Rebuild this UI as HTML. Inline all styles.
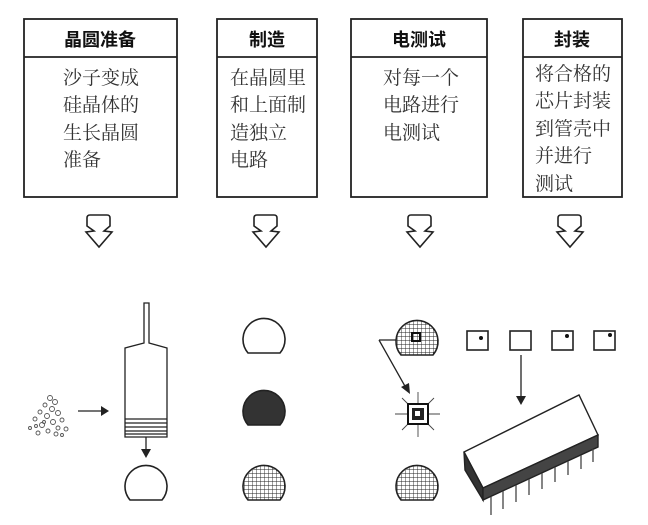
<!DOCTYPE html>
<html><head><meta charset="utf-8"><style>
html,body{margin:0;padding:0;background:#fff;}
svg{display:block;}
.t{font-family:"Liberation Sans","Noto Sans CJK SC",sans-serif;font-weight:bold;font-size:18px;fill:#111;}
.b{font-family:"Liberation Serif","Noto Serif CJK SC",serif;font-size:19px;fill:#333;}
</style></head><body>
<svg width="648" height="525" viewBox="0 0 648 525" xmlns="http://www.w3.org/2000/svg">
<defs>
<pattern id="g" width="4" height="4" patternUnits="userSpaceOnUse">
<path d="M0 0H4M0 0V4" stroke="#222" stroke-width="0.9"/>
</pattern>
<path id="arr" d="M-9,0 H8 Q11,0 11,3 V11 L5,16 L13,17 L0,32 L-13,17 L-5,16 L-12,11 V3 Q-12,0 -9,0 Z" fill="none" stroke="#222" stroke-width="1.6"/>
<path id="waf" d="M-16,35 A21 21 0 1 1 16,35 Z"/>
</defs>
<g fill="none" stroke="#222" stroke-width="1.8">
<rect x="24" y="19" width="153" height="178"/><line x1="24" y1="57" x2="177" y2="57"/>
<rect x="217" y="19" width="100" height="178"/><line x1="217" y1="57" x2="317" y2="57"/>
<rect x="351" y="19" width="136" height="178"/><line x1="351" y1="57" x2="487" y2="57"/>
<rect x="523" y="19" width="99" height="178"/><line x1="523" y1="57" x2="622" y2="57"/>
</g>
<text class="t" x="100" y="46" text-anchor="middle">晶圆准备</text>
<text class="t" x="267" y="46" text-anchor="middle">制造</text>
<text class="t" x="419" y="46" text-anchor="middle">电测试</text>
<text class="t" x="572" y="46" text-anchor="middle">封装</text>
<g class="b">
<text x="63" y="84">沙子变成</text><text x="63" y="111">硅晶体的</text><text x="63" y="139">生长晶圆</text><text x="63" y="166">准备</text>
<text x="230" y="84">在晶圆里</text><text x="230" y="111">和上面制</text><text x="230" y="139">造独立</text><text x="230" y="166">电路</text>
<text x="383" y="84">对每一个</text><text x="383" y="111">电路进行</text><text x="383" y="139">电测试</text>
<text x="535" y="80">将合格的</text><text x="535" y="107">芯片封装</text><text x="535" y="135">到管壳中</text><text x="535" y="162">并进行</text><text x="535" y="190">测试</text>
</g>
<use href="#arr" x="99" y="215"/><use href="#arr" x="266" y="215"/><use href="#arr" x="420" y="215"/><use href="#arr" x="570" y="215"/>

<!-- crystal puller -->
<g fill="none" stroke="#222" stroke-width="1.3">
<path d="M144,343 V303 H149 V343 L167,348 V437 H125 V348 Z"/>
<path d="M125,419H167M125,423H167M125,427H167M125,431H167M125,434H167"/>
<line x1="146" y1="437" x2="146" y2="450"/>
<line x1="78" y1="411" x2="102" y2="411"/>
<line x1="379" y1="340" x2="396" y2="340"/><line x1="379" y1="340" x2="406" y2="388"/>
<line x1="521" y1="355" x2="521" y2="398"/>
</g>
<path d="M141,449 L151,449 L146,458 Z" fill="#222"/>
<path d="M101,406 L109,411 L101,416 Z" fill="#222"/>
<path d="M401,387 L410,394 L409,383 Z" fill="#222"/>
<path d="M516,396 L526,396 L521,405 Z" fill="#222"/>
<!-- sand -->
<g fill="none" stroke="#555" stroke-width="0.9">
<circle cx="50" cy="398" r="2.5"/><circle cx="55" cy="402" r="2.5"/><circle cx="45" cy="405" r="2"/><circle cx="52" cy="409" r="2.5"/>
<circle cx="40" cy="412" r="2"/><circle cx="58" cy="413" r="2.5"/><circle cx="47" cy="416" r="2.5"/><circle cx="35" cy="419" r="2"/>
<circle cx="62" cy="420" r="2"/><circle cx="53" cy="422" r="2.5"/><circle cx="42" cy="425" r="2.5"/><circle cx="30" cy="428" r="1.5"/>
<circle cx="58" cy="428" r="2"/><circle cx="66" cy="429" r="2"/><circle cx="48" cy="431" r="2"/><circle cx="38" cy="433" r="2"/>
<circle cx="56" cy="434" r="2"/><circle cx="62" cy="435" r="1.5"/><circle cx="44" cy="422" r="1.5"/><circle cx="36" cy="426" r="1.5"/>
</g>
<!-- wafers -->
<g stroke="#222" stroke-width="1.6">
<use href="#waf" x="146" y="465" fill="#fff"/>
<use href="#waf" x="264" y="318" fill="#fff"/>
<use href="#waf" x="264" y="390" fill="#333"/>
<use href="#waf" x="264" y="465" fill="url(#g)"/>
<use href="#waf" x="417" y="320" fill="url(#g)"/>
<use href="#waf" x="417" y="465" fill="url(#g)"/>
</g>
<rect x="412" y="333" width="8" height="8" fill="none" stroke="#111" stroke-width="2"/>
<!-- chip -->
<g stroke="#444" stroke-width="0.9">
<line x1="395" y1="414" x2="440" y2="414"/><line x1="418" y1="392" x2="418" y2="437"/>
<line x1="402" y1="398" x2="434" y2="430"/><line x1="434" y1="398" x2="402" y2="430"/>
</g>
<rect x="408" y="404" width="20" height="20" fill="#fff" stroke="#111" stroke-width="2"/>
<rect x="412" y="408" width="12" height="12" fill="#222"/>
<rect x="415" y="411" width="5" height="5" fill="#fff"/>
<!-- squares -->
<g fill="#fff" stroke="#222" stroke-width="1.6">
<rect x="467" y="331" width="21" height="19"/><rect x="510" y="331" width="21" height="19"/>
<rect x="552" y="331" width="21" height="19"/><rect x="594" y="331" width="21" height="19"/>
</g>
<g fill="#111"><circle cx="481" cy="338" r="2"/><circle cx="567" cy="336" r="2"/><circle cx="610" cy="335" r="2"/></g>
<!-- IC -->
<g stroke="#222" stroke-width="1.4">
<path d="M464,452 L579,395 L598,435 L483,488 Z" fill="#fff"/>
<path d="M464,452 L483,488 L483,500 L465,470 Z" fill="#333"/>
<path d="M483,488 L598,435 L598,447 L483,500 Z" fill="#444"/>
</g>
<g stroke="#444" stroke-width="1.3">
<path d="M491,497 v18 M503,491 v18 M516,485 v17 M529,479 v16 M542,473 v16 M555,467 v15 M568,461 v14 M581,455 v14 M593,449 v13"/>
</g>
</svg>
</body></html>
